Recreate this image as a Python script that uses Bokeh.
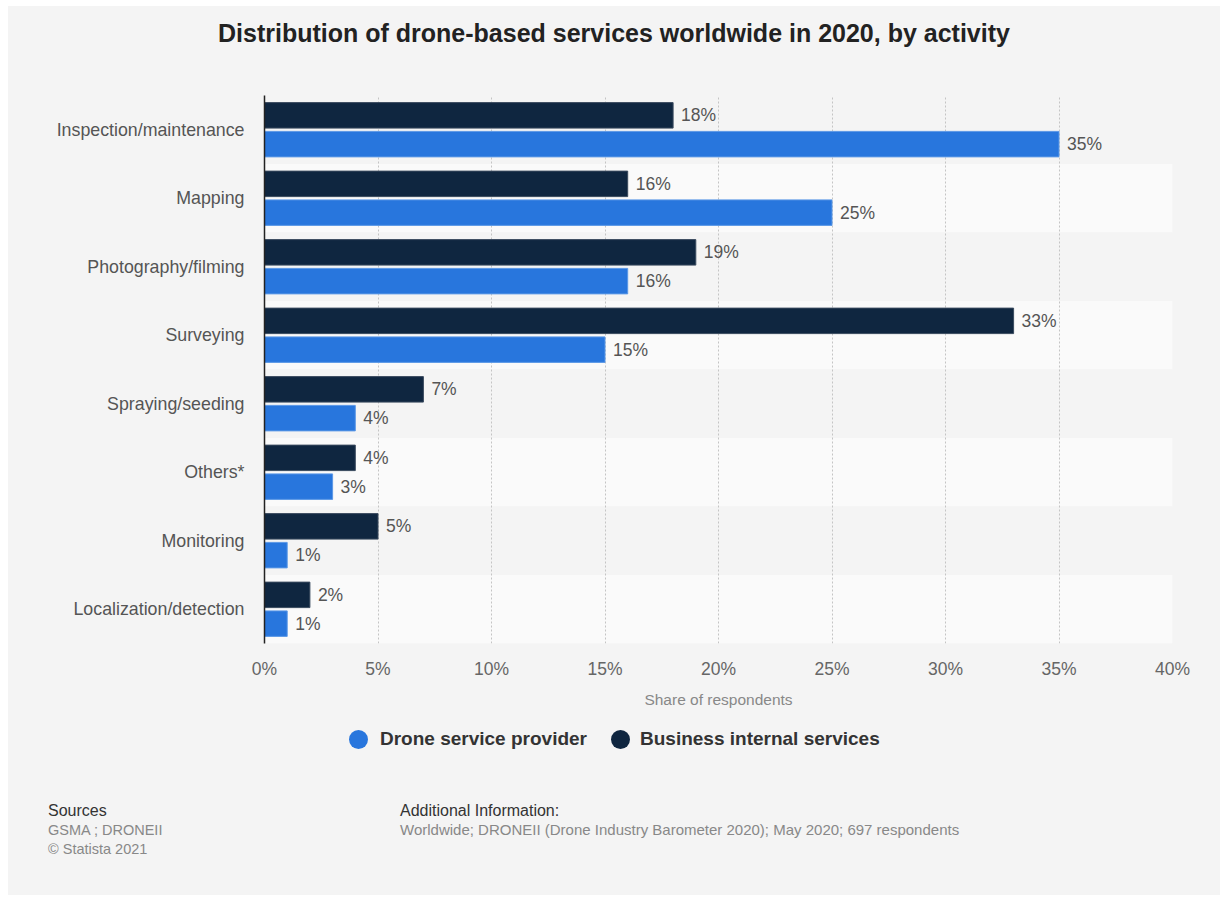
from bokeh.plotting import figure
from bokeh.layouts import column
from bokeh.models import (ColumnDataSource, LabelSet, FixedTicker, Div,
                          PrintfTickFormatter, Range1d)
from bokeh.core.properties import value
from bokeh.embed import file_html
from bokeh.resources import INLINE

# ---------------- data ----------------
categories = ["Inspection/maintenance", "Mapping", "Photography/filming", "Surveying",
              "Spraying/seeding", "Others*", "Monitoring", "Localization/detection"]
provider = [35, 25, 16, 15, 4, 3, 1, 1]          # Drone service provider
internal = [18, 16, 19, 33, 7, 4, 5, 2]          # Business internal services
x_ticks = [0, 5, 10, 15, 20, 25, 30, 35, 40]
series_names = ["Drone service provider", "Business internal services"]
title_text = "Distribution of drone-based services worldwide in 2020, by activity"
sources_lines = ["GSMA ; DRONEII", "\u00a9 Statista 2021"]
additional_info = "Worldwide; DRONEII (Drone Industry Barometer 2020); May 2020; 697 respondents"

# ---------------- style ----------------
FONT = "Liberation Sans"
CSS_FONT = "'Liberation Sans', Arial, sans-serif"
BLUE = "#2876dd"
NAVY = "#0f2640"
BG = "#f4f4f4"
BAND = "#fafafa"
BAR_H = 0.372
OFF = 0.21

W = 1212
PAGE_X0, PAGE_Y0 = 8, 6
TOP_H, MAIN_H, BOT_H = 54, 660, 175
n = len(categories)
row_center = [n - i - 0.5 for i in range(n)]


def span(txt, x, y, size, color, bold=False, lh=26, center=False):
    pos = f"left:0;width:{W}px;text-align:center;" if center else f"left:{x}px;"
    return (f'<span style="position:absolute;{pos}top:{y - lh / 2}px;line-height:{lh}px;'
            f'font-family:{CSS_FONT};font-size:{size};color:{color};'
            f'font-weight:{"bold" if bold else "normal"};white-space:nowrap;">{txt}</span>')


def dot(cx, cy, d, color):
    return (f'<span style="position:absolute;left:{cx - d / 2}px;top:{cy - d / 2}px;'
            f'width:{d}px;height:{d}px;border-radius:50%;background:{color};"></span>')


def box(h, inner):
    return (f'<div style="position:relative;width:{W}px;height:{h}px;'
            f'background:{BG};overflow:hidden;">{inner}</div>')


# ---------------- title (page y 6..60) ----------------
top_div = Div(text=box(TOP_H, span(title_text, 0, 33 - PAGE_Y0, "25px", "#222222",
                                   bold=True, lh=30, center=True)),
              width=W, height=TOP_H, margin=0, styles={"background-color": BG})

# ---------------- main chart (page y 60..720) ----------------
p = figure(width=W, height=MAIN_H, x_range=Range1d(0, 40), y_range=Range1d(0, n),
           output_backend="svg", toolbar_location=None,
           min_border_left=256, min_border_right=48,
           min_border_top=35, min_border_bottom=77)
p.background_fill_color = BG
p.border_fill_color = BG
p.outline_line_color = None

band_src = ColumnDataSource(dict(
    bottom=[c - 0.5 for c in row_center],
    top=[c + 0.5 for c in row_center],
    color=[BG if i % 2 == 0 else BAND for i in range(n)],
))
p.quad(left=0, right=40, bottom="bottom", top="top", color="color",
       source=band_src, line_color=None, level="underlay")

src_int = ColumnDataSource(dict(y=[c + OFF for c in row_center], v=internal,
                                t=[f"{v}%" for v in internal]))
src_pro = ColumnDataSource(dict(y=[c - OFF for c in row_center], v=provider,
                                t=[f"{v}%" for v in provider]))
p.hbar(y="y", right="v", left=0, height=BAR_H, source=src_int,
       fill_color=NAVY, line_color="#3a4a5e", line_width=1)
p.hbar(y="y", right="v", left=0, height=BAR_H, source=src_pro,
       fill_color=BLUE, line_color="#5b98e6", line_width=1)

for s in (src_int, src_pro):
    p.add_layout(LabelSet(x="v", y="y", text="t", source=s, x_offset=8,
                          text_baseline="middle", text_font=value(FONT),
                          text_font_size=value("17.5px"), text_color=value("#555555")))

p.ygrid.grid_line_color = None
p.xgrid.ticker = FixedTicker(ticks=x_ticks)
p.xgrid.grid_line_color = "#c4c4c4"
p.xgrid.grid_line_dash = "2 2"
p.xgrid.grid_line_width = 1

p.xaxis.ticker = FixedTicker(ticks=x_ticks)
p.xaxis.formatter = PrintfTickFormatter(format="%d%%")
p.xaxis.axis_line_color = None
p.xaxis.major_tick_line_color = None
p.xaxis.minor_tick_line_color = None
p.xaxis.major_tick_out = 0
p.xaxis.major_label_standoff = 15
p.xaxis.major_label_text_font = FONT
p.xaxis.major_label_text_font_size = "17.5px"
p.xaxis.major_label_text_color = "#666666"
p.xaxis.axis_label = "Share of respondents"
p.xaxis.axis_label_text_font = FONT
p.xaxis.axis_label_text_font_size = "15.5px"
p.xaxis.axis_label_text_font_style = "normal"
p.xaxis.axis_label_text_color = "#888888"
p.xaxis.axis_label_standoff = 9

p.yaxis.ticker = FixedTicker(ticks=row_center)
p.yaxis.major_label_overrides = {c: cat for c, cat in zip(row_center, categories)}
p.yaxis.axis_line_color = "#222222"
p.yaxis.axis_line_width = 1.5
p.yaxis.major_tick_line_color = None
p.yaxis.minor_tick_line_color = None
p.yaxis.major_tick_out = 0
p.yaxis.major_label_standoff = 20
p.yaxis.major_label_text_font = FONT
p.yaxis.major_label_text_font_size = "17.8px"
p.yaxis.major_label_text_color = "#555555"

# ---------------- legend + footer (page y 720..895) ----------------
BOT_TOP = PAGE_Y0 + TOP_H + MAIN_H


def lx(page_x):
    return page_x - PAGE_X0


def ly(page_y):
    return page_y - BOT_TOP


LEG_Y = 739
parts = []
for name, col, cx, tx in zip(series_names, [BLUE, NAVY], [358, 620], [380, 640]):
    parts.append(dot(lx(cx), ly(LEG_Y), 19, col))
    parts.append(span(name, lx(tx), ly(LEG_Y), "19px", "#333333", bold=True))

parts.append(span("Sources", lx(48), ly(811), "16px", "#333333", lh=20))
for i, line in enumerate(sources_lines):
    parts.append(span(line, lx(48), ly(830 + 19 * i), "14.5px", "#888888", lh=20))
parts.append(span("Additional Information:", lx(400), ly(811), "16px", "#333333", lh=20))
parts.append(span(additional_info, lx(400), ly(830), "15px", "#888888", lh=20))

bot_div = Div(text=box(BOT_H, "".join(parts)), width=W, height=BOT_H, margin=0,
              styles={"background-color": BG})

layout = column(top_div, p, bot_div, spacing=0)
layout.margin = (PAGE_Y0, 4, 2, PAGE_X0)
layout.styles = {"background-color": BG}

open("out.html", "w").write(file_html(layout, INLINE))
